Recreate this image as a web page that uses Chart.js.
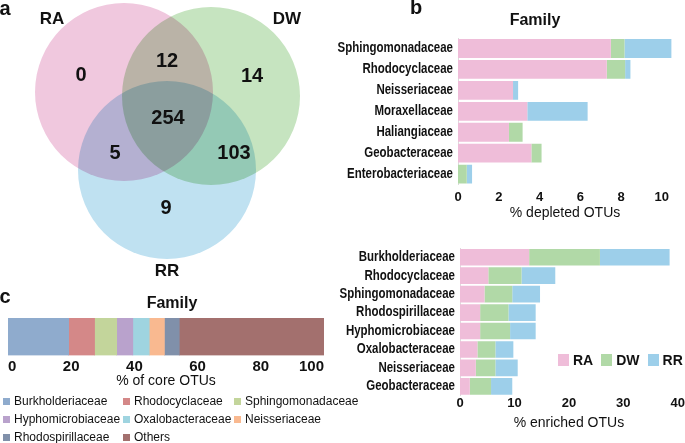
<!DOCTYPE html>
<html>
<head>
<meta charset="utf-8">
<script src="https://cdn.jsdelivr.net/npm/chart.js@4.4.1/dist/chart.umd.min.js"></script>
<style>
  body { margin: 0; background: #fff; }
  #fig { position: relative; width: 685px; height: 443px; overflow: hidden;
         font-family: 'Liberation Sans', Arial, sans-serif; color: #111; }
  #fig canvas { position: absolute; }
  .txt { position: absolute; white-space: nowrap; line-height: 1; font-weight: bold;
         transform: translate(-50%, -50%); }
  #legendB { position: absolute; left: 558px; top: 352px; display: flex; align-items: center;
             font: bold 14px 'Liberation Sans', Arial, sans-serif; }
  #legendB span.box { width: 11px; height: 12px; display: inline-block; margin-right: 4px; }
  #legendB span.lab { margin-right: 8px; }
  #legendC { position: absolute; left: 3px; top: 392px; display: grid;
             grid-template-columns: 120px 111px auto; grid-auto-rows: 18px;
             font: 12px 'Liberation Sans', Arial, sans-serif; }
  #legendC div { display: flex; align-items: center; white-space: nowrap; }
  #legendC span.box { width: 7px; height: 7px; display: inline-block; margin-right: 4px; }
</style>
</head>
<body>
<div id="fig">
  <canvas id="vennChart" width="330" height="290" style="left:0;top:0"></canvas>
  <canvas id="depletedChart" width="355" height="225" style="left:330px;top:0"></canvas>
  <canvas id="enrichedChart" width="355" height="218" style="left:330px;top:225px"></canvas>
  <canvas id="coreChart" width="330" height="113" style="left:0;top:280px"></canvas>

  <div class="txt" style="left:5px;top:8px;font-size:20px">a</div>
  <div class="txt" style="left:416px;top:7px;font-size:20px">b</div>
  <div class="txt" style="left:5px;top:296px;font-size:20px">c</div>
  <div class="txt" style="left:535px;top:20px;font-size:16px">Family</div>
  <div class="txt" style="left:172px;top:303px;font-size:16px">Family</div>

  <div id="legendB"></div>
  <div id="legendC"></div>
</div>

<script>
const groups = ['RA', 'DW', 'RR'];
const groupColors = ['#efbdd9', '#b1d9a7', '#9dcfea'];

/* a: venn */
const vennCounts = [0, 12, 14, 5, 254, 103, 9];
const vennCircleColors = ['#f0c8de', '#c6e4c0', '#bfe1f1'];

/* b: depleted OTUs */
const depletedFamilies = ['Sphingomonadaceae', 'Rhodocyclaceae', 'Neisseriaceae', 'Moraxellaceae',
  'Haliangiaceae', 'Geobacteraceae', 'Enterobacteriaceae'];
const depletedRA = [7.5, 7.3, 2.7, 3.4, 2.5, 3.6, 0];
const depletedDW = [0.67, 0.9, 0, 0, 0.67, 0.5, 0.43];
const depletedRR = [2.3, 0.26, 0.25, 2.96, 0, 0, 0.26];
const depletedTicks = [0, 2, 4, 6, 8, 10];

/* b: enriched OTUs */
const enrichedFamilies = ['Burkholderiaceae', 'Rhodocyclaceae', 'Sphingomonadaceae', 'Rhodospirillaceae',
  'Hyphomicrobiaceae', 'Oxalobacteraceae', 'Neisseriaceae', 'Geobacteraceae'];
const enrichedRA = [12.7, 5.2, 4.5, 3.7, 3.7, 3.2, 2.9, 1.8];
const enrichedDW = [13.0, 6.1, 5.1, 5.2, 5.5, 3.3, 3.6, 3.9];
const enrichedRR = [12.8, 6.2, 5.1, 5.0, 4.7, 3.3, 4.1, 3.9];
const enrichedTicks = [0, 10, 20, 30, 40];

/* c: core OTUs */
const coreFamilies = ['Burkholderiaceae', 'Rhodocyclaceae', 'Sphingomonadaceae', 'Hyphomicrobiaceae',
  'Oxalobacteraceae', 'Neisseriaceae', 'Rhodospirillaceae', 'Others'];
const coreShare = [19.2, 8.2, 7.0, 5.1, 5.2, 4.8, 4.7, 45.8];
const coreColors = ['#8fabcd', '#d48888', '#c3d59b', '#b9a2cc', '#9fd4e0', '#f9b990', '#8090aa', '#a3706e'];
const coreTicks = [0, 20, 40, 60, 80, 100];

// layout of the venn (canvas pixels), not data
const vennCircles = [{x: 124, y: 92, r: 89}, {x: 211, y: 96, r: 89}, {x: 167, y: 170, r: 89}];
const vennCountSpots = [[81, 75], [167, 61], [252, 76], [115, 153], [168, 118], [234, 153], [166, 208]];
const vennNameSpots = [[52, 19], [287, 19], [167, 271]];

const SANS = "'Liberation Sans', Arial, sans-serif";
Chart.defaults.animation = false;
Chart.defaults.events = [];
Chart.defaults.color = '#111';
Chart.defaults.font.family = SANS;
Chart.defaults.plugins.legend.display = false;
Chart.defaults.plugins.tooltip.enabled = false;

// venn circles through a bubble chart, multiply blended
const multiply = {
  id: 'multiply',
  beforeDatasetsDraw(chart) { chart.ctx.save(); chart.ctx.globalCompositeOperation = 'multiply'; },
  afterDatasetsDraw(chart) { chart.ctx.restore(); }
};
const vennText = {
  id: 'vennText',
  afterDraw(chart) {
    const {ctx, scales: {x, y}} = chart;
    ctx.save();
    ctx.fillStyle = '#111';
    ctx.textAlign = 'center';
    ctx.textBaseline = 'middle';
    ctx.font = 'bold 20px ' + SANS;
    vennCounts.forEach((n, i) => {
      ctx.fillText(String(n), x.getPixelForValue(vennCountSpots[i][0]), y.getPixelForValue(vennCountSpots[i][1]));
    });
    ctx.font = 'bold 17px ' + SANS;
    groups.forEach((g, i) => {
      ctx.fillText(g, x.getPixelForValue(vennNameSpots[i][0]), y.getPixelForValue(vennNameSpots[i][1]));
    });
    ctx.restore();
  }
};

new Chart(document.getElementById('vennChart'), {
  type: 'bubble',
  data: {
    datasets: [{
      data: vennCircles,
      backgroundColor: vennCircleColors,
      borderWidth: 0,
      hoverRadius: 0,
      clip: false
    }]
  },
  options: {
    responsive: false,
    layout: { padding: 0, autoPadding: false },
    scales: {
      x: { display: false, min: 0, max: 330 },
      y: { display: false, min: 0, max: 290, reverse: true }
    }
  },
  plugins: [multiply, vennText]
});

// family names drawn a bit condensed, like the figure
const condensedLabels = {
  id: 'condensedLabels',
  afterDraw(chart) {
    const {ctx, chartArea, scales: {y}} = chart;
    ctx.save();
    ctx.font = 'bold 14px ' + SANS;
    ctx.fillStyle = '#111';
    ctx.textAlign = 'right';
    ctx.textBaseline = 'middle';
    y.getLabels().forEach((lab, i) => {
      ctx.save();
      ctx.translate(chartArea.left - 5, y.getPixelForValue(i));
      ctx.scale(0.82, 1);
      ctx.fillText(lab, 0, 0);
      ctx.restore();
    });
    ctx.restore();
  }
};

const stackSets = (ra, dw, rr) => [ra, dw, rr].map((d, i) => ({
  label: groups[i],
  data: d,
  backgroundColor: groupColors[i],
  borderWidth: 0,
  categoryPercentage: 0.9,
  barPercentage: 1
}));

const familyBar = (id, labels, sets, max, ticks, title, yWidth, pad, tickPad, titlePad) => new Chart(document.getElementById(id), {
  type: 'bar',
  data: { labels: labels, datasets: sets },
  options: {
    responsive: false,
    indexAxis: 'y',
    layout: { padding: pad },
    scales: {
      x: {
        stacked: true, min: 0, max: max,
        afterBuildTicks: s => { s.ticks = ticks.map(v => ({value: v})); },
        grid: { display: false, drawTicks: false },
        border: { display: false },
        ticks: { padding: tickPad, font: { size: 13, weight: 'bold' }, color: '#111' },
        title: { display: true, text: title, padding: titlePad, font: { size: 14 }, color: '#111' }
      },
      y: {
        stacked: true,
        afterFit: s => { s.width = yWidth; },
        grid: { display: false, drawTicks: false },
        border: { display: true, color: '#dcdcdc', width: 1 },
        ticks: { display: false, autoSkip: false }
      }
    }
  },
  plugins: [condensedLabels]
});

familyBar('depletedChart', depletedFamilies, stackSets(depletedRA, depletedDW, depletedRR),
  10.5, depletedTicks, '% depleted OTUs', 128, { top: 38, right: 13, bottom: 0, left: 0 }, 5, { top: -5, bottom: 3 });

familyBar('enrichedChart', enrichedFamilies, stackSets(enrichedRA, enrichedDW, enrichedRR),
  40, enrichedTicks, '% enriched OTUs', 130, { top: 23, right: 7, bottom: 11, left: 0 }, 0, { top: 4, bottom: 0 });

new Chart(document.getElementById('coreChart'), {
  type: 'bar',
  data: {
    labels: ['core'],
    datasets: coreFamilies.map((f, i) => ({
      label: f,
      data: [coreShare[i]],
      backgroundColor: coreColors[i],
      borderWidth: 0,
      categoryPercentage: 1,
      barPercentage: 1
    }))
  },
  options: {
    responsive: false,
    indexAxis: 'y',
    layout: { padding: { top: 38, right: 6, bottom: 0, left: 8 } },
    scales: {
      x: {
        stacked: true, min: 0, max: 100,
        afterBuildTicks: s => { s.ticks = coreTicks.map(v => ({value: v})); },
        grid: { display: false, drawTicks: false },
        border: { display: false },
        ticks: { padding: 2, align: 'inner', font: { size: 15, weight: 'bold' }, color: '#111' },
        title: { display: true, text: '% of core OTUs', padding: { top: -1, bottom: 3 }, font: { size: 14 }, color: '#111' }
      },
      y: { stacked: true, display: false }
    }
  }
});

// html legends
const legendB = document.getElementById('legendB');
groups.forEach((g, i) => {
  legendB.insertAdjacentHTML('beforeend',
    `<span class="box" style="background:${groupColors[i]}"></span><span class="lab">${g}</span>`);
});
const legendC = document.getElementById('legendC');
coreFamilies.forEach((f, i) => {
  legendC.insertAdjacentHTML('beforeend',
    `<div><span class="box" style="background:${coreColors[i]}"></span>${f}</div>`);
});
</script>
</body>
</html>
